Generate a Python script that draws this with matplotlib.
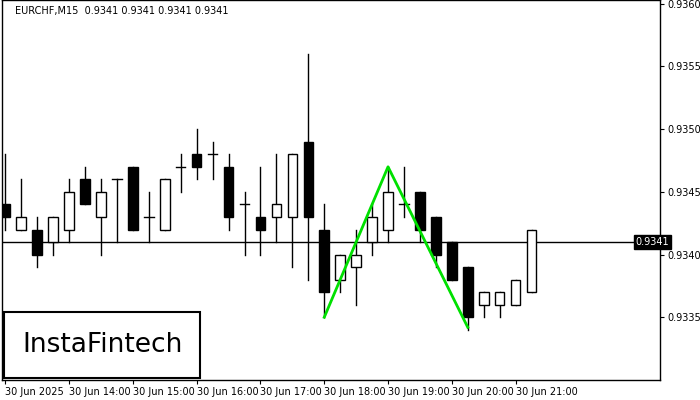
import matplotlib
matplotlib.use("Agg")
import matplotlib.pyplot as plt
from matplotlib.patches import Rectangle

opens  = [.9344,.9342,.9342,.9341,.9342,.9346,.9343,.9346,.9347,.9343,.9342,.9347,.9348,.9348,.9347,.9344,.9343,.9343,.9343,.9349,
          .9342,.9338,.9339,.9341,.9342,.9344,.9345,.9343,.9341,.9339,.9336,.9336,.9336,.9337]
closes = [.9343,.9343,.9340,.9343,.9345,.9344,.9345,.9346,.9342,.9343,.9346,.9347,.9347,.9348,.9343,.9344,.9342,.9344,.9348,.9343,
          .9337,.9340,.9340,.9343,.9345,.9344,.9342,.9340,.9338,.9335,.9337,.9337,.9338,.9342]
highs  = [.9348,.9346,.9343,.9343,.9346,.9347,.9346,.9346,.9347,.9345,.9346,.9348,.9350,.9349,.9348,.9345,.9347,.9348,.9348,.9356,
          .9344,.9340,.9342,.9344,.9347,.9347,.9345,.9343,.9341,.9339,.9337,.9337,.9338,.9342]
lows   = [.9342,.9342,.9339,.9340,.9341,.9344,.9340,.9341,.9342,.9341,.9342,.9345,.9346,.9346,.9342,.9340,.9340,.9341,.9339,.9338,
          .9335,.9337,.9336,.9340,.9341,.9343,.9341,.9339,.9338,.9334,.9335,.9335,.9336,.9337]
pattern_idx = [20, 24, 29]
pattern_px = [0.9335, 0.9347, 0.93342]
xlabels = ["30 Jun 2025","30 Jun 14:00","30 Jun 15:00","30 Jun 16:00","30 Jun 17:00","30 Jun 18:00","30 Jun 19:00","30 Jun 20:00","30 Jun 21:00"]
yticks = [0.9335,0.9340,0.9345,0.9350,0.9355,0.9360]
last = 0.9341

fig = plt.figure(figsize=(7,4), dpi=100)
ax = fig.add_axes([0.003, 0.05, 0.94, 0.95])
w = 0.6
for i,(o,c,h,l) in enumerate(zip(opens,closes,highs,lows)):
    ax.plot([i,i],[l,h],color="black",lw=1,zorder=2)
    if o == c:
        ax.plot([i-w/2,i+w/2],[o,o],color="black",lw=1,zorder=3)
    else:
        fc = "white" if c > o else "black"
        ax.add_patch(Rectangle((i-w/2,min(o,c)),w,abs(c-o),facecolor=fc,edgecolor="black",lw=1,zorder=3))
ax.plot(pattern_idx, pattern_px, color="#00e000", lw=2, zorder=4)
ax.axhline(last, color="black", lw=1, zorder=1)
ax.set_xlim(-0.2, 41.06)
ax.set_ylim(0.93300, 0.93603)
ax.set_xticks([i*4 for i in range(len(xlabels))])
ax.set_xticklabels(xlabels, fontsize=7, ha="left")
ax.yaxis.tick_right()
ax.set_yticks(yticks)
ax.set_yticklabels([f"{v:.4f}" for v in yticks], fontsize=7)
ax.tick_params(length=3, pad=2)
for s in ax.spines.values():
    s.set_linewidth(1)
ax.text(0.963, last, f"{last:.4f}", transform=ax.get_yaxis_transform(), fontsize=7, color="white",
        va="center", ha="left", bbox=dict(boxstyle="square,pad=0.2", fc="black", ec="black"), clip_on=False)
ax.text(0.02, 0.985, "EURCHF,M15  0.9341 0.9341 0.9341 0.9341", transform=ax.transAxes, fontsize=7, va="top")
fig.patches.append(Rectangle((0.006,0.055),0.28,0.165,transform=fig.transFigure,fill=True,fc="white",ec="black",lw=1.5,zorder=5))
fig.text(0.146,0.137,"InstaFintech",fontsize=19,ha="center",va="center",zorder=6)
fig.savefig("out.png", dpi=100)
